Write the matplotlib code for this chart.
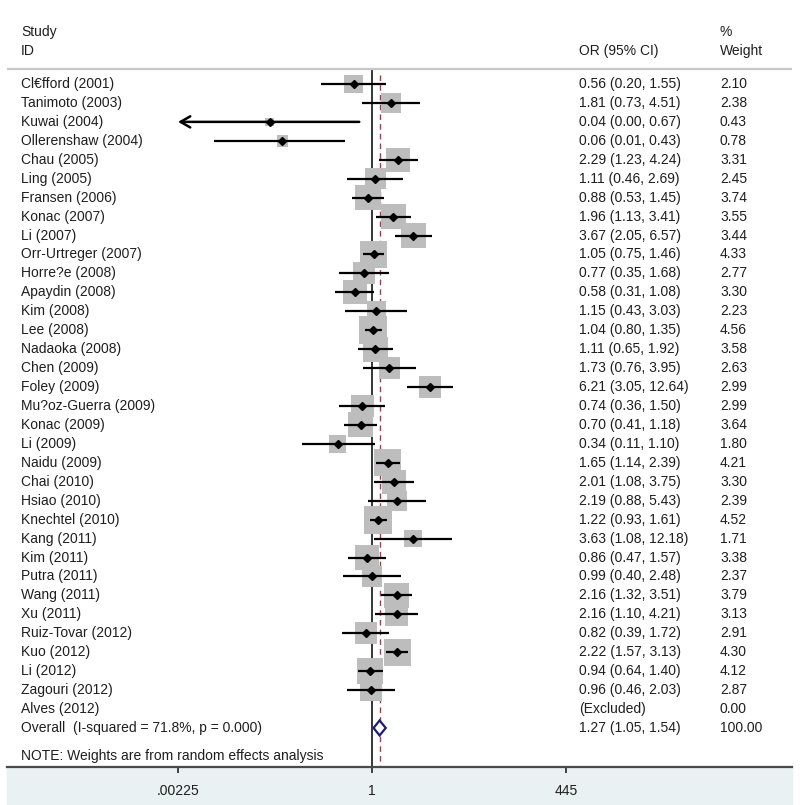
import numpy as np
import matplotlib
matplotlib.use("Agg")
import matplotlib.pyplot as plt
from matplotlib.patches import Rectangle
import matplotlib.transforms as mtransforms

plt.rcParams["font.family"] = ["Liberation Sans", "DejaVu Sans"]

# ---- data -----------------------------------------------------------------
studies = [
    "Cl€fford (2001)", "Tanimoto (2003)", "Kuwai (2004)", "Ollerenshaw (2004)",
    "Chau (2005)", "Ling (2005)", "Fransen (2006)", "Konac (2007)", "Li (2007)",
    "Orr-Urtreger (2007)", "Horre?e (2008)", "Apaydin (2008)", "Kim (2008)",
    "Lee (2008)", "Nadaoka (2008)", "Chen (2009)", "Foley (2009)",
    "Mu?oz-Guerra (2009)", "Konac (2009)", "Li (2009)", "Naidu (2009)",
    "Chai (2010)", "Hsiao (2010)", "Knechtel (2010)", "Kang (2011)", "Kim (2011)",
    "Putra (2011)", "Wang (2011)", "Xu (2011)", "Ruiz-Tovar (2012)", "Kuo (2012)",
    "Li (2012)", "Zagouri (2012)", "Alves (2012)",
]
odds = [0.56, 1.81, 0.04, 0.06, 2.29, 1.11, 0.88, 1.96, 3.67, 1.05, 0.77, 0.58,
        1.15, 1.04, 1.11, 1.73, 6.21, 0.74, 0.70, 0.34, 1.65, 2.01, 2.19, 1.22,
        3.63, 0.86, 0.99, 2.16, 2.16, 0.82, 2.22, 0.94, 0.96, np.nan]
ci_low = [0.20, 0.73, 0.001, 0.007, 1.23, 0.46, 0.53, 1.13, 2.05, 0.75, 0.35, 0.31,
          0.43, 0.80, 0.65, 0.76, 3.05, 0.36, 0.41, 0.11, 1.14, 1.08, 0.88, 0.93,
          1.08, 0.47, 0.40, 1.32, 1.10, 0.39, 1.57, 0.64, 0.46, np.nan]
ci_high = [1.55, 4.51, 0.67, 0.43, 4.24, 2.69, 1.45, 3.41, 6.57, 1.46, 1.68, 1.08,
           3.03, 1.35, 1.92, 3.95, 12.64, 1.50, 1.18, 1.10, 2.39, 3.75, 5.43, 1.61,
           12.18, 1.57, 2.48, 3.51, 4.21, 1.72, 3.13, 1.40, 2.03, np.nan]
weights = [2.10, 2.38, 0.43, 0.78, 3.31, 2.45, 3.74, 3.55, 3.44, 4.33, 2.77, 3.30,
           2.23, 4.56, 3.58, 2.63, 2.99, 2.99, 3.64, 1.80, 4.21, 3.30, 2.39, 4.52,
           1.71, 3.38, 2.37, 3.79, 3.13, 2.91, 4.30, 4.12, 2.87, 0.00]

overall_label = "Overall  (I-squared = 71.8%, p = 0.000)"
overall = (1.27, 1.05, 1.54)
note = "NOTE: Weights are from random effects analysis"
xticks = [0.00225, 1, 445]
xtick_labels = [".00225", "1", "445"]

# ---- layout (pixel-based) -------------------------------------------------
W, H = 800, 805
ROW0, ROWH = 84, 18.94         # y pixel of first row, row height
PX1, PXDEC = 372, 73.26        # x pixel of OR=1, pixels per decade
AX_L, AX_R, AX_B = 7, 792, 767

def row(py):
    return (py - ROW0) / ROWH

TXT = "#1e1e1e"
BOX = "#bdbdbd"
FS = 10

fig = plt.figure(figsize=(W / 100, H / 100), dpi=100)
fig.patches.append(Rectangle((AX_L / W, 0), (AX_R - AX_L) / W, (H - AX_B) / H,
                             transform=fig.transFigure, color="#eaf1f2", zorder=-5))
ax = fig.add_axes([AX_L / W, (H - AX_B) / H, (AX_R - AX_L) / W, AX_B / H])
ax.patch.set_alpha(0)
ax.set_xscale("log")
ax.set_xlim(10 ** ((AX_L - PX1) / PXDEC), 10 ** ((AX_R - PX1) / PXDEC))
ax.set_ylim(row(AX_B), row(0))

for s in ("top", "left", "right"):
    ax.spines[s].set_visible(False)
ax.spines["bottom"].set_color("#4a4a4a")
ax.spines["bottom"].set_linewidth(1.6)
ax.set_yticks([])
ax.set_xticks(xticks)
ax.set_xticklabels(xtick_labels)
ax.minorticks_off()
ax.tick_params(axis="x", direction="out", length=4.5, width=1.3, color="#333333",
               pad=8, labelsize=FS, labelcolor=TXT)

col = lambda px: (px - AX_L) / (AX_R - AX_L)
tr = mtransforms.blended_transform_factory(ax.transAxes, ax.transData)

# header
hy1, hy2, hline = row(32), row(51), row(69)
ax.text(col(21), hy1, "Study", transform=tr, fontsize=FS, color=TXT, va="center")
ax.text(col(21), hy2, "ID", transform=tr, fontsize=FS, color=TXT, va="center")
ax.text(col(579), hy2, "OR (95% CI)", transform=tr, fontsize=FS, color=TXT, va="center")
ax.text(col(720), hy1, "%", transform=tr, fontsize=FS, color=TXT, va="center")
ax.text(col(720), hy2, "Weight", transform=tr, fontsize=FS, color=TXT, va="center")
ax.axhline(hline, xmin=col(8), xmax=1, color="#c8c8c8", lw=1.6)

# reference lines
ytop, ybot = hline, row(AX_B)
ax.plot([1, 1], [ytop, ybot], color="black", lw=1.1, zorder=1)
ax.plot([overall[0]] * 2, [ytop + 0.3, ybot], color="#a83a46", lw=1.0,
        dashes=(4, 3), zorder=1)

xmin_ci = xticks[0]
for i, name in enumerate(studies):
    ax.text(col(21), i, name, transform=tr, fontsize=FS, color=TXT, va="center")
    ax.text(col(720), i, f"{weights[i]:.2f}", transform=tr, fontsize=FS,
            color=TXT, va="center")
    if np.isnan(odds[i]):
        ax.text(col(579), i, "(Excluded)", transform=tr, fontsize=FS,
                color=TXT, va="center")
        continue
    ax.text(col(579), i, f"{odds[i]:.2f} ({ci_low[i]:.2f}, {ci_high[i]:.2f})",
            transform=tr, fontsize=FS, color=TXT, va="center")
    side_pt = 13.1 * np.sqrt(weights[i]) * 0.72
    ax.scatter([odds[i]], [i], marker="s", s=side_pt ** 2, color=BOX,
               edgecolors="none", zorder=2)
    if ci_low[i] < xmin_ci:
        ax.annotate("", xy=(xmin_ci, i), xytext=(ci_high[i], i),
                    arrowprops=dict(arrowstyle="->,head_length=0.7,head_width=0.4",
                                    lw=1.8, color="black", shrinkA=0, shrinkB=0),
                    zorder=3)
    else:
        ax.plot([ci_low[i], ci_high[i]], [i, i], color="black", lw=1.6,
                solid_capstyle="butt", zorder=3)
    ax.plot([odds[i]], [i], marker="D", ms=4.2, color="black", zorder=4)

# overall
oy = len(studies)
ax.text(col(21), oy, overall_label, transform=tr, fontsize=FS, color=TXT, va="center")
ax.text(col(579), oy, f"{overall[0]:.2f} ({overall[1]:.2f}, {overall[2]:.2f})",
        transform=tr, fontsize=FS, color=TXT, va="center")
ax.text(col(720), oy, "100.00", transform=tr, fontsize=FS, color=TXT, va="center")
hh = 7.5 / ROWH
ax.fill([overall[1], overall[0], overall[2], overall[0]],
        [oy, oy - hh, oy, oy + hh], facecolor="white", edgecolor="#1c1c78",
        lw=1.6, zorder=5)

ax.text(col(21), row(756), note, transform=tr, fontsize=FS, color=TXT, va="center")

fig.savefig("out.png", dpi=100)
